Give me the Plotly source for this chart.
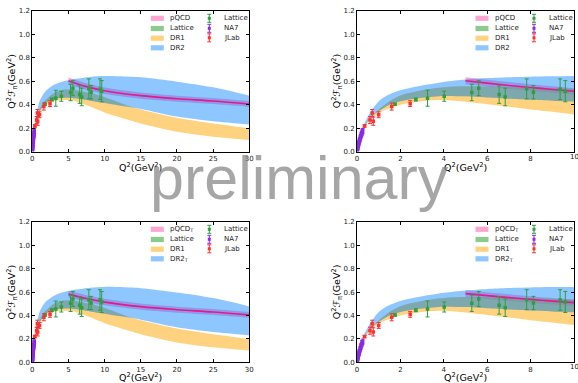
import plotly.graph_objects as go

W, H = 578, 383

# ---------------- data ----------------
# wide panels (Q^2 up to 30)
q_wide = [0, 0.1, 0.25, 0.5, 1, 1.5, 2, 3, 4, 5, 6, 8, 10, 12, 15, 20, 25, 30]
dr2_wide_hi = [0, 0.10, 0.20, 0.30, 0.43, 0.49, 0.526, 0.57, 0.595, 0.61, 0.622, 0.638, 0.645, 0.643, 0.634, 0.597, 0.549, 0.478]
dr2_wide_lo = [0, 0.08, 0.17, 0.26, 0.34, 0.39, 0.42, 0.45, 0.46, 0.46, 0.455, 0.435, 0.415, 0.395, 0.365, 0.30, 0.26, 0.232]
dr1_wide_hi = [0, 0.09, 0.18, 0.27, 0.36, 0.42, 0.45, 0.50, 0.525, 0.53, 0.525, 0.50, 0.465, 0.42, 0.36, 0.29, 0.24, 0.20]
dr1_wide_lo = [0, 0.08, 0.16, 0.25, 0.33, 0.37, 0.40, 0.43, 0.44, 0.44, 0.43, 0.385, 0.335, 0.295, 0.24, 0.17, 0.128, 0.10]
lat_band_wide_q = [1, 1.5, 2, 3, 4, 5, 6, 8, 10, 12, 13]
lat_band_wide_lo = [0.34, 0.39, 0.42, 0.45, 0.46, 0.46, 0.455, 0.435, 0.415, 0.395, 0.388]
lat_band_wide_hi = [0.36, 0.42, 0.45, 0.50, 0.525, 0.53, 0.525, 0.50, 0.465, 0.42, 0.39]

# narrow panels (Q^2 up to 10)
q_narrow = [0, 0.1, 0.25, 0.5, 1, 1.5, 2, 3, 4, 5, 6, 7, 8, 9, 10]
dr2_narrow_hi = [0, 0.10, 0.20, 0.30, 0.43, 0.49, 0.525, 0.565, 0.595, 0.615, 0.628, 0.636, 0.64, 0.643, 0.645]
dr2_narrow_lo = [0, 0.08, 0.17, 0.26, 0.345, 0.40, 0.43, 0.46, 0.475, 0.472, 0.462, 0.452, 0.443, 0.435, 0.428]
dr1_narrow_hi = [0, 0.09, 0.18, 0.27, 0.36, 0.43, 0.48, 0.525, 0.55, 0.558, 0.556, 0.552, 0.547, 0.541, 0.535]
dr1_narrow_lo = [0, 0.08, 0.16, 0.25, 0.33, 0.37, 0.40, 0.43, 0.44, 0.425, 0.405, 0.383, 0.36, 0.34, 0.318]
lat_band_narrow_q = [1, 1.5, 2, 3, 4, 5, 6, 7, 8, 9, 10]
lat_band_narrow_lo = [0.345, 0.40, 0.43, 0.46, 0.475, 0.472, 0.462, 0.452, 0.443, 0.435, 0.428]
lat_band_narrow_hi = [0.36, 0.43, 0.48, 0.525, 0.55, 0.558, 0.556, 0.552, 0.547, 0.541, 0.535]

# pQCD curves
pq_wide_q = [5, 7.5, 10, 15, 20, 25, 30]
pq_top_wide_line = [0.603, 0.555, 0.52, 0.478, 0.452, 0.432, 0.407]
pq_top_wide_hi = [0.633, 0.584, 0.548, 0.505, 0.478, 0.458, 0.432]
pq_top_wide_lo = [0.573, 0.526, 0.492, 0.451, 0.426, 0.406, 0.382]
pq_bot_wide_line = [0.583, 0.545, 0.515, 0.476, 0.45, 0.43, 0.405]
pq_bot_wide_hi = [0.612, 0.574, 0.543, 0.503, 0.476, 0.456, 0.43]
pq_bot_wide_lo = [0.554, 0.516, 0.487, 0.449, 0.424, 0.404, 0.38]
pq_narrow_q = [5, 6, 7, 8, 9, 10]
pq_top_narrow_line = [0.605, 0.585, 0.565, 0.548, 0.531, 0.515]
pq_top_narrow_hi = [0.635, 0.614, 0.594, 0.576, 0.559, 0.542]
pq_top_narrow_lo = [0.575, 0.556, 0.536, 0.52, 0.503, 0.488]
pq_bot_narrow_line = [0.587, 0.57, 0.553, 0.538, 0.523, 0.51]
pq_bot_narrow_hi = [0.616, 0.599, 0.582, 0.566, 0.551, 0.537]
pq_bot_narrow_lo = [0.558, 0.541, 0.524, 0.51, 0.495, 0.483]

# data points
lat_q = [1.75, 2.71, 3.25, 4.02, 5.29, 5.61, 6.55, 6.83, 7.82, 8.13, 9.36, 9.6]
lat_v = [0.405, 0.445, 0.456, 0.473, 0.505, 0.542, 0.487, 0.467, 0.536, 0.507, 0.533, 0.516]
lat_e = [0.01, 0.012, 0.068, 0.043, 0.07, 0.064, 0.075, 0.075, 0.085, 0.057, 0.088, 0.09]
na7_q = [0.015, 0.03, 0.045, 0.06, 0.075, 0.09, 0.105, 0.12, 0.14, 0.16, 0.18, 0.2, 0.22, 0.24, 0.26]
na7_v = [0.014, 0.028, 0.041, 0.053, 0.065, 0.077, 0.088, 0.098, 0.11, 0.122, 0.135, 0.146, 0.156, 0.168, 0.178]
na7_e = [0.004, 0.005, 0.006, 0.007, 0.008, 0.009, 0.010, 0.011, 0.012, 0.013, 0.014, 0.015, 0.016, 0.018, 0.02]
jlab_q = [0.35, 0.6, 0.7, 0.75, 1.0, 1.6, 2.45]
jlab_v = [0.22, 0.27, 0.33, 0.26, 0.315, 0.385, 0.41]
jlab_e = [0.01, 0.03, 0.03, 0.035, 0.025, 0.03, 0.025]

legend_bands_top = ["pQCD", "Lattice", "DR1", "DR2"]
legend_bands_bot = ["pQCD<sub>T</sub>", "Lattice", "DR1", "DR2<sub>T</sub>"]
legend_points = ["Lattice", "NA7", "JLab"]
ticks_wide = [0, 5, 10, 15, 20, 25, 30]
ticks_narrow = [0, 2, 4, 6, 8, 10]
ticks_y = [0.0, 0.2, 0.4, 0.6, 0.8, 1.0, 1.2]
ticks_y_text = ["0.0", "0.2", "0.4", "0.6", "0.8", "1.0", "1.2"]

# ---------------- styling ----------------
PINK = 'rgba(255,105,180,0.6)'
GREEN = 'rgba(44,160,44,0.32)'
ORANGE = 'rgba(255,165,0,0.5)'
BLUE = 'rgba(30,144,255,0.5)'
LEG_GREEN = 'rgba(44,160,44,0.55)'
LINE = '#e8178a'
C_LAT = '#2e9e3e'
C_NA7 = '#8a2be2'
C_JLAB = '#ff3030'
FONT = "DejaVu Sans"


def X(px):
    return px / W


def Y(py):
    return 1 - py / H


LEFT_X = (32.3, 249.3)
RIGHT_X = (357.0, 574.0)
TOP_Y = (11.0, 151.7)
BOT_Y = (222.0, 362.3)

panels = [
    dict(n=1, xs=LEFT_X, ys=TOP_Y, xmax=30, ticks=ticks_wide, q=q_wide,
         dr2=(dr2_wide_lo, dr2_wide_hi), dr1=(dr1_wide_lo, dr1_wide_hi),
         lat=(lat_band_wide_q, lat_band_wide_lo, lat_band_wide_hi),
         pq=(pq_wide_q, pq_top_wide_lo, pq_top_wide_hi, pq_top_wide_line), labels=legend_bands_top),
    dict(n=2, xs=RIGHT_X, ys=TOP_Y, xmax=10, ticks=ticks_narrow, q=q_narrow,
         dr2=(dr2_narrow_lo, dr2_narrow_hi), dr1=(dr1_narrow_lo, dr1_narrow_hi),
         lat=(lat_band_narrow_q, lat_band_narrow_lo, lat_band_narrow_hi),
         pq=(pq_narrow_q, pq_top_narrow_lo, pq_top_narrow_hi, pq_top_narrow_line), labels=legend_bands_top),
    dict(n=3, xs=LEFT_X, ys=BOT_Y, xmax=30, ticks=ticks_wide, q=q_wide,
         dr2=(dr2_wide_lo, dr2_wide_hi), dr1=(dr1_wide_lo, dr1_wide_hi),
         lat=(lat_band_wide_q, lat_band_wide_lo, lat_band_wide_hi),
         pq=(pq_wide_q, pq_bot_wide_lo, pq_bot_wide_hi, pq_bot_wide_line), labels=legend_bands_bot),
    dict(n=4, xs=RIGHT_X, ys=BOT_Y, xmax=10, ticks=ticks_narrow, q=q_narrow,
         dr2=(dr2_narrow_lo, dr2_narrow_hi), dr1=(dr1_narrow_lo, dr1_narrow_hi),
         lat=(lat_band_narrow_q, lat_band_narrow_lo, lat_band_narrow_hi),
         pq=(pq_narrow_q, pq_bot_narrow_lo, pq_bot_narrow_hi, pq_bot_narrow_line), labels=legend_bands_bot),
]

fig = go.Figure()
shapes = []
annotations = []


def band(xa, ya, q, lo, hi, color):
    fig.add_trace(go.Scatter(x=q, y=lo, mode='lines', line=dict(width=0, shape='spline', smoothing=0.8),
                             xaxis=xa, yaxis=ya, showlegend=False, hoverinfo='skip'))
    fig.add_trace(go.Scatter(x=q, y=hi, mode='lines', line=dict(width=0, shape='spline', smoothing=0.8),
                             fill='tonexty', fillcolor=color,
                             xaxis=xa, yaxis=ya, showlegend=False, hoverinfo='skip'))


def points(xa, ya, q, v, e, color):
    fig.add_trace(go.Scatter(x=q, y=v, mode='markers', xaxis=xa, yaxis=ya, showlegend=False,
                             marker=dict(color=color, size=3.5, symbol='square'),
                             error_y=dict(type='data', array=e, color=color, thickness=1, width=2)))


layout_axes = {}
for p in panels:
    n = p['n']
    sfx = '' if n == 1 else str(n)
    xa, ya = 'x' + sfx, 'y' + sfx
    pq_q, pq_lo, pq_hi, pq_line = p['pq']
    band(xa, ya, pq_q, pq_lo, pq_hi, PINK)
    lq, llo, lhi = p['lat']
    band(xa, ya, lq, llo, lhi, GREEN)
    band(xa, ya, p['q'], p['dr1'][0], p['dr1'][1], ORANGE)
    band(xa, ya, p['q'], p['dr2'][0], p['dr2'][1], BLUE)
    fig.add_trace(go.Scatter(x=pq_q, y=pq_line, mode='lines', xaxis=xa, yaxis=ya, showlegend=False,
                             line=dict(color=LINE, width=1.6, shape='spline')))
    points(xa, ya, lat_q, lat_v, lat_e, C_LAT)
    points(xa, ya, na7_q, na7_v, na7_e, C_NA7)
    points(xa, ya, jlab_q, jlab_v, jlab_e, C_JLAB)

    ax_common = dict(showline=True, linecolor='black', linewidth=1, mirror='allticks',
                     ticks='inside', ticklen=3, tickwidth=0.8, tickcolor='black',
                     showgrid=False, zeroline=False, automargin=False,
                     tickfont=dict(family=FONT, size=7, color='#222'))
    # the last x label of the right-hand panels is drawn as an annotation (it runs past the page edge)
    last_as_note = p['xs'][1] > 560
    xtext = [str(t) for t in p['ticks']]
    if last_as_note:
        xtext[-1] = ''
        annotations.append(dict(x=p['ticks'][-1], xref=xxref if False else xa, y=Y(p['ys'][1] + 5),
                                yref='paper', text=str(p['ticks'][-1]), showarrow=False,
                                xanchor='center', yanchor='middle',
                                font=dict(family=FONT, size=7, color='#222')))
    layout_axes['xaxis' + sfx] = dict(ax_common, domain=[X(p['xs'][0]), X(p['xs'][1])],
                                     range=[0, p['xmax']], tickvals=p['ticks'],
                                     ticktext=xtext, anchor=ya)
    layout_axes['yaxis' + sfx] = dict(ax_common, domain=[Y(p['ys'][1]), Y(p['ys'][0])],
                                     range=[0, 1.2], tickvals=ticks_y, ticktext=ticks_y_text, anchor=xa)

    x0, y0 = p['xs'][0], p['ys'][0]
    xc = (p['xs'][0] + p['xs'][1]) / 2
    yc = (p['ys'][0] + p['ys'][1]) / 2
    # axis titles
    annotations.append(dict(x=X(xc), y=Y(p['ys'][1] + 15), xref='paper', yref='paper',
                            text='Q<sup>2</sup>(GeV<sup>2</sup>)', showarrow=False,
                            xanchor='center', yanchor='middle',
                            font=dict(family=FONT, size=9.5, color='black')))
    annotations.append(dict(x=X(x0 - 20), y=Y(yc), xref='paper', yref='paper',
                            text='Q<sup>2</sup>ℱ<sub>π</sub>(GeV<sup>2</sup>)', showarrow=False,
                            textangle=-90, xanchor='center', yanchor='middle',
                            font=dict(family=FONT, size=9.5, color='black')))
    # legend, column 1 (band patches)
    rows1 = [7.3, 17.5, 27.2, 36.8]
    cols = [PINK, LEG_GREEN, ORANGE, BLUE]
    for r, c, lab in zip(rows1, cols, p['labels']):
        shapes.append(dict(type='rect', xref='paper', yref='paper',
                           x0=X(x0 + 118.5), x1=X(x0 + 131.5), y0=Y(y0 + r - 2.6), y1=Y(y0 + r + 2.6),
                           fillcolor=c, line=dict(width=0)))
        annotations.append(dict(x=X(x0 + 135.5), y=Y(y0 + r), xref='paper', yref='paper', text=lab,
                                showarrow=False, xanchor='left', yanchor='middle',
                                font=dict(family=FONT, size=7, color='#222')))
    # legend, column 2 (error-bar markers)
    rows2 = [7.3, 17.3, 26.8]
    for r, c, lab in zip(rows2, [C_LAT, C_NA7, C_JLAB], legend_points):
        cx = x0 + 177
        shapes.append(dict(type='line', xref='paper', yref='paper', x0=X(cx), x1=X(cx),
                           y0=Y(y0 + r - 4), y1=Y(y0 + r + 4), line=dict(color=c, width=1)))
        for dy in (-4, 4):
            shapes.append(dict(type='line', xref='paper', yref='paper', x0=X(cx - 2), x1=X(cx + 2),
                               y0=Y(y0 + r + dy), y1=Y(y0 + r + dy), line=dict(color=c, width=1)))
        shapes.append(dict(type='rect', xref='paper', yref='paper', x0=X(cx - 1.5), x1=X(cx + 1.5),
                           y0=Y(y0 + r - 1.5), y1=Y(y0 + r + 1.5), fillcolor=c, line=dict(width=0)))
        annotations.append(dict(x=X(x0 + 189.5), y=Y(y0 + r), xref='paper', yref='paper', text=lab,
                                showarrow=False, xanchor='left', yanchor='middle',
                                font=dict(family=FONT, size=7, color='#222')))

# watermark
annotations.append(dict(x=X(299), y=Y(178), xref='paper', yref='paper', text='preliminary',
                        showarrow=False, xanchor='center', yanchor='middle',
                        font=dict(family='Liberation Sans', size=61, color='rgba(128,128,128,0.7)')))

fig.update_layout(template='none', width=W, height=H, margin=dict(l=0, r=0, t=0, b=0),
                  paper_bgcolor='white', plot_bgcolor='white', showlegend=False,
                  shapes=shapes, annotations=annotations, **layout_axes)

fig.write_html("out.html", config={'displayModeBar': False},
               post_script="document.body.style.margin='0px';document.body.style.padding='0px';"
                           "document.body.style.overflow='hidden';")
